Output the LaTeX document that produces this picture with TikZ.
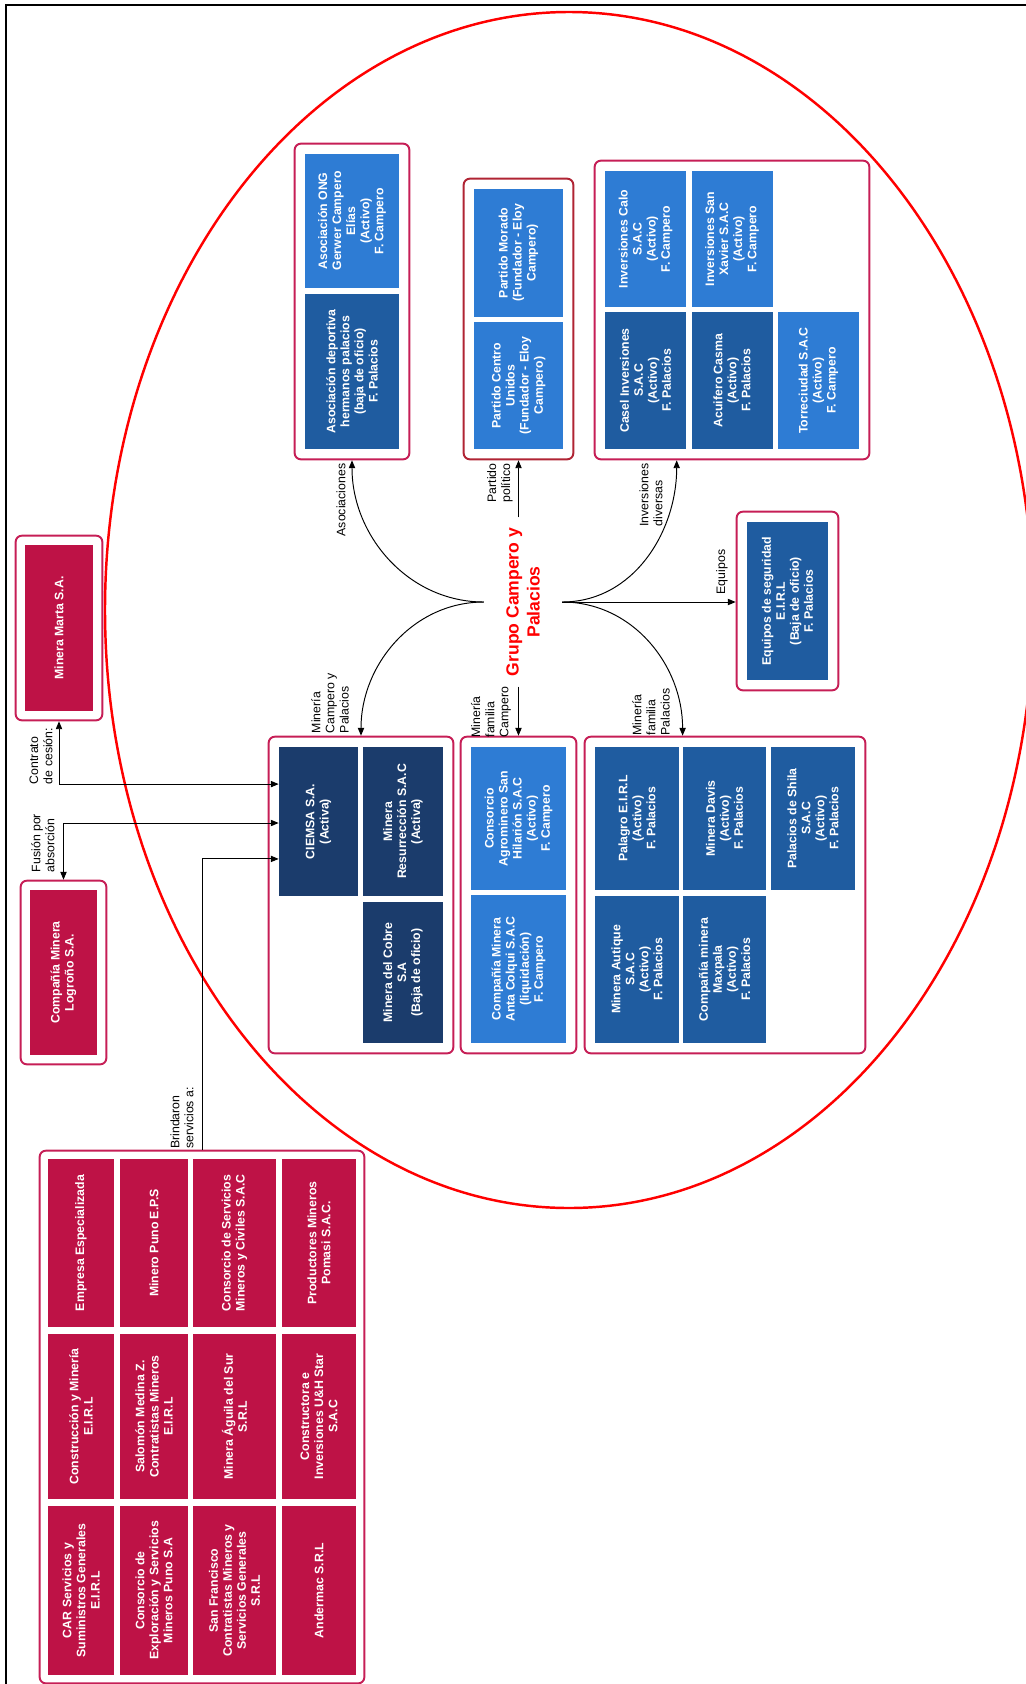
\documentclass[tikz,border=0pt]{standalone}
\usepackage{fontspec}
\setmainfont{Liberation Sans}
\usepackage{xcolor}
\usepackage{tikz}
\usetikzlibrary{arrows.meta, positioning, calc, fit, backgrounds}
\definecolor{crimson}{RGB}{190,18,70}
\definecolor{groupred}{RGB}{198,30,86}
\definecolor{partyred}{RGB}{176,36,52}
\definecolor{navy}{RGB}{27,60,108}
\definecolor{palblue}{RGB}{31,92,160}
\definecolor{camblue}{RGB}{46,124,212}

\begin{document}
\begin{tikzpicture}[
	x=0.02cm, y=-0.02cm,
	font=\fontsize{7}{8}\selectfont,
	box/.style={rectangle, rotate=90, align=center, text=white, inner sep=1pt, font=\fontsize{7}{8}\selectfont\bfseries},
	navybox/.style={box, fill=navy},
	palbox/.style={box, fill=palblue},
	cambox/.style={box, fill=camblue},
	redbox/.style={box, fill=crimson},
	grp/.style={rectangle, draw=groupred, line width=1.1pt, rounded corners=3.5pt, fill=white, inner sep=0.2cm},
	arrow/.style={-{Triangle[length=4.5pt, width=3.6pt]}, line width=0.55pt},
	twoway/.style={{Triangle[length=4.5pt, width=3.6pt]}-{Triangle[length=4.5pt, width=3.6pt]}, line width=0.55pt},
	lbl/.style={rotate=90, align=left, inner sep=0pt}
	]
	\useasboundingbox (0,0) rectangle (1026,1684);
	\clip (0,0) rectangle (1026,1684);
	\draw[line width=1.6pt] (6,1700) -- (6,5) -- (1040,5);

	% Nodo central
	\node[rotate=90, align=center, text=red, font=\fontsize{10}{12}\selectfont\bfseries, inner xsep=0.2cm, inner ysep=0.44cm] (grupo) at (523,602) {Grupo Campero y\\Palacios};

	% Asociaciones
	\node[cambox, minimum width=2.68cm, minimum height=1.88cm] (ong) at (352,221) {Asociación ONG\\Gerwer Campero\\Elías\\(Activo)\\F. Campero};
	\node[palbox, minimum width=3.1cm, minimum height=1.88cm] (deportiva) at (352,371.5) {Asociación deportiva\\hermanos palacios\\(baja de oficio)\\F. Palacios};

	% Partidos
	\node[cambox, minimum width=2.56cm, minimum height=1.78cm] (morado) at (518.5,253) {Partido Morado\\(Fundador - Eloy\\Campero)};
	\node[cambox, minimum width=2.54cm, minimum height=1.78cm] (centro) at (518.5,385.5) {Partido Centro\\Unidos\\(Fundador - Eloy\\Campero)};

	% Inversiones
	\node[cambox, minimum width=2.72cm, minimum height=1.62cm] (calo) at (645.5,239) {Inversiones Calo\\S.A.C\\(Activo)\\F. Campero};
	\node[cambox, minimum width=2.72cm, minimum height=1.62cm] (xavier) at (732,239) {Inversiones San\\Xavier S.A.C\\(Activo)\\F. Campero};
	\node[palbox, minimum width=2.74cm, minimum height=1.62cm] (casel) at (645.5,380.5) {Casel Inversiones\\S.A.C\\(Activo)\\F. Palacios};
	\node[palbox, minimum width=2.74cm, minimum height=1.62cm] (acuifero) at (732,380.5) {Acuifero Casma\\(Activo)\\F. Palacios};
	\node[cambox, minimum width=2.74cm, minimum height=1.62cm] (torre) at (818.5,380.5) {Torreciudad S.A.C\\(Activo)\\F. Campero};

	% Equipos
	\node[palbox, minimum width=3.16cm, minimum height=1.62cm] (seguridad) at (787.5,601) {Equipos de seguridad\\E.I.R.L\\(Baja de oficio)\\F. Palacios};

	% Mineria Campero y Palacios
	\node[navybox, minimum width=2.98cm, minimum height=1.58cm] (ciemsa) at (318.5,821.5) {CIEMSA S.A.\\(Activa)};
	\node[navybox, minimum width=2.98cm, minimum height=1.6cm] (resurreccion) at (403,821.5) {Minera\\Resurrección S.A.C\\(Activa)};
	\node[navybox, minimum width=2.82cm, minimum height=1.6cm] (cobre) at (403,972.5) {Minera del Cobre\\S.A\\(Baja de oficio)};

	% Mineria familia Campero
	\node[cambox, minimum width=2.86cm, minimum height=1.9cm] (agrominero) at (518.5,818.5) {Consorcio\\Agrominero San\\Hilarión S.A.C\\(Activo)\\F. Campero};
	\node[cambox, minimum width=2.96cm, minimum height=1.9cm] (anta) at (518.5,969) {Compañía Minera\\Anta Colqui S.A.C\\(liquidación)\\F. Campero};

	% Mineria familia Palacios
	\node[palbox, minimum width=2.86cm, minimum height=1.68cm] (palagro) at (637,818.5) {Palagro E.I.R.L\\(Activo)\\F. Palacios};
	\node[palbox, minimum width=2.86cm, minimum height=1.66cm] (davis) at (724.5,818.5) {Minera Davis\\(Activo)\\F. Palacios};
	\node[palbox, minimum width=2.86cm, minimum height=1.68cm] (shila) at (813,818.5) {Palacios de Shila\\S.A.C\\(Activo)\\F. Palacios};
	\node[palbox, minimum width=2.94cm, minimum height=1.68cm] (autique) at (637,969.5) {Minera Autique\\S.A.C\\(Activo)\\F. Palacios};
	\node[palbox, minimum width=2.94cm, minimum height=1.66cm] (maxpala) at (724.5,969.5) {Compañía minera\\Maxpala\\(Activo)\\F. Palacios};

	% Empresas externas
	\node[redbox, minimum width=3.32cm, minimum height=1.36cm] (marta) at (59,628) {Minera Marta S.A.};
	\node[redbox, minimum width=3.3cm, minimum height=1.34cm] (logrono) at (63.5,972.5) {Compañía Minera\\Logroño S.A.};

	% Empresas de servicios
	\node[redbox, minimum width=3.36cm, minimum height=1.32cm] (s11) at (81,1243) {Empresa Especializada};
	\node[redbox, minimum width=3.36cm, minimum height=1.36cm] (s12) at (154,1243) {Minero Puno E.P.S};
	\node[redbox, minimum width=3.36cm, minimum height=1.66cm] (s13) at (234.5,1243) {Consorcio de Servicios\\Mineros y Civiles S.A.C};
	\node[redbox, minimum width=3.36cm, minimum height=1.48cm] (s14) at (319,1243) {Productores Mineros\\Pomasi S.A.C.};
	\node[redbox, minimum width=3.3cm, minimum height=1.32cm] (s21) at (81,1416.5) {Construcción y Minería\\E.I.R.L};
	\node[redbox, minimum width=3.3cm, minimum height=1.36cm] (s22) at (154,1416.5) {Salomón Medina Z.\\Contratistas Mineros\\E.I.R.L};
	\node[redbox, minimum width=3.3cm, minimum height=1.66cm] (s23) at (234.5,1416.5) {Minera Águila del Sur\\S.R.L};
	\node[redbox, minimum width=3.3cm, minimum height=1.48cm] (s24) at (319,1416.5) {Constructora e\\Inversiones U\&H Star\\S.A.C};
	\node[redbox, minimum width=3.38cm, minimum height=1.32cm] (s31) at (81,1590.5) {CAR Servicios y\\Suministros Generales\\E.I.R.L};
	\node[redbox, minimum width=3.38cm, minimum height=1.36cm] (s32) at (154,1590.5) {Consorcio de\\Exploración y Servicios\\Mineros Puno S.A};
	\node[redbox, minimum width=3.38cm, minimum height=1.66cm] (s33) at (234.5,1590.5) {San Francisco\\Contratistas Mineros y\\Servicios Generales\\S.R.L};
	\node[redbox, minimum width=3.38cm, minimum height=1.48cm] (s34) at (319,1590.5) {Andermac S.R.L};

	% Recuadros de grupo
	\begin{scope}[on background layer]
		\draw[red, line width=1.4pt] (569,610) ellipse [x radius=464, y radius=598];
		\node[grp, fit=(ong)(deportiva)] (asoc) {};
		\node[grp, draw=partyred, fit=(morado)(centro)] (partido) {};
		\node[grp, fit=(calo)(xavier)(casel)(torre)] (inv) {};
		\node[grp, fit=(seguridad)] (equipos) {};
		\node[grp, fit=(ciemsa)(resurreccion)(cobre)] (cyp) {};
		\node[grp, fit=(agrominero)(anta)] (fcampero) {};
		\node[grp, fit=(palagro)(shila)(autique)] (fpalacios) {};
		\node[grp, inner sep=0.18cm, fit=(marta)] (martag) {};
		\node[grp, inner sep=0.18cm, fit=(logrono)] (logronog) {};
		\node[grp, inner sep=0.16cm, fit=(s11)(s14)(s31)(s34)] (servicios) {};
	\end{scope}

	% Etiquetas
	\node[lbl] (lasoc) at (341,500) {Asociaciones};
	\node[lbl] (lpartido) at (500,483) {Partido\\político};
	\node[lbl] (linv) at (651,495) {Inversiones\\diversas};
	\node[lbl] (lcyp) at (330,703) {Minería\\Campero y\\Palacios};
	\node[lbl] (lfcam) at (491,712) {Minería\\familia\\Campero};
	\node[lbl] (lfpal) at (651,712) {Minería\\familia\\Palacios};
	\node[lbl] (lequipos) at (722,572) {Equipos};
	\node[lbl] (lcontrato) at (41,756) {Contrato\\de cesión:};
	\node[lbl] (lfusion) at (43,843) {Fusión por\\absorción};
	\node[lbl] (lbrind) at (182,1118) {Brindaron\\servicios a:};

	% Flechas del grupo
	\coordinate (invtip) at ($(inv.south west)!0.3!(inv.south east)$);
	\coordinate (paltip) at ($(fpalacios.north west)!0.35!(fpalacios.north east)$);
	\draw[arrow] (grupo.north) to[out=180, in=-90] (asoc.south);
	\draw[arrow] (grupo.north) to[out=180, in=90] (cyp.north);
	\draw[arrow] (partido.south |- grupo.east) -- (partido.south);
	\draw[arrow] (fcampero.north |- grupo.west) -- (fcampero.north);
	\draw[arrow] (grupo.south) to[out=0, in=-90] (invtip);
	\draw[arrow] (grupo.south) to[out=0, in=90] (paltip);
	\draw[arrow] (grupo.south) -- (grupo.south -| equipos.west);

	% Flechas hacia CIEMSA
	\coordinate (c1) at ($(ciemsa.north east)!0.25!(ciemsa.north west)$);
	\coordinate (c2) at ($(ciemsa.north east)!0.51!(ciemsa.north west)$);
	\coordinate (c3) at ($(ciemsa.north east)!0.75!(ciemsa.north west)$);
	\draw[twoway] (martag.south) |- (c1);
	\draw[twoway] (logronog.north) |- (c2);
	\draw[arrow] (servicios.north) |- (c3);
\end{tikzpicture}
\end{document}
